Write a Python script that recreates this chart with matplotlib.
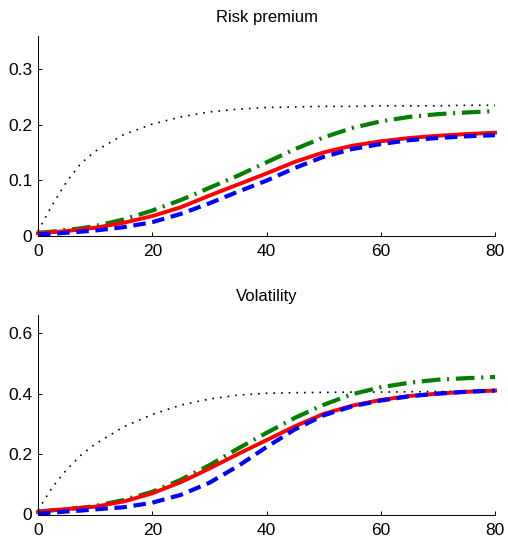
import matplotlib
matplotlib.use("Agg")
import matplotlib.pyplot as plt

plt.rcParams['font.family'] = ['Liberation Sans', 'DejaVu Sans']

x = [0, 2.5, 5, 7.5, 10, 15, 20, 25, 30, 35, 40, 45, 50, 55, 60, 65, 70, 75, 80]

# Risk premium panel
rp_dotted = [0.008, 0.055, 0.097, 0.130, 0.152, 0.182, 0.201, 0.214, 0.223, 0.228,
             0.231, 0.232, 0.233, 0.233, 0.234, 0.234, 0.234, 0.235, 0.235]
rp_red = [0.004, 0.006, 0.008, 0.011, 0.014, 0.023, 0.035, 0.051, 0.072, 0.092,
          0.112, 0.133, 0.150, 0.162, 0.170, 0.176, 0.180, 0.183, 0.1855]
rp_blue = [0.002, 0.003, 0.005, 0.007, 0.009, 0.015, 0.024, 0.039, 0.058, 0.079,
           0.099, 0.122, 0.142, 0.156, 0.165, 0.172, 0.176, 0.179, 0.181]
rp_green = [0.005, 0.007, 0.010, 0.013, 0.017, 0.029, 0.045, 0.064, 0.086, 0.108,
            0.132, 0.156, 0.177, 0.194, 0.206, 0.214, 0.219, 0.222, 0.2245]

# Volatility panel
vol_dotted = [0.015, 0.090, 0.148, 0.196, 0.233, 0.290, 0.331, 0.362, 0.382, 0.395,
              0.401, 0.403, 0.404, 0.405, 0.405, 0.406, 0.407, 0.408, 0.409]
vol_red = [0.008, 0.014, 0.018, 0.022, 0.026, 0.043, 0.070, 0.107, 0.152, 0.200,
           0.246, 0.292, 0.333, 0.360, 0.379, 0.392, 0.400, 0.406, 0.410]
vol_blue = [0.003, 0.006, 0.010, 0.013, 0.017, 0.024, 0.039, 0.065, 0.105, 0.160,
            0.223, 0.282, 0.328, 0.358, 0.377, 0.391, 0.400, 0.406, 0.410]
vol_green = [0.010, 0.014, 0.018, 0.022, 0.028, 0.048, 0.075, 0.115, 0.163, 0.218,
             0.270, 0.320, 0.363, 0.398, 0.421, 0.436, 0.446, 0.451, 0.455]

titles = ["Risk premium", "Volatility"]
xticks = [0, 20, 40, 60, 80]
yticks_top = [0, 0.1, 0.2, 0.3]
yticks_bot = [0, 0.2, 0.4, 0.6]
ylabels_top = ["0", "0.1", "0.2", "0.3"]
ylabels_bot = ["0", "0.2", "0.4", "0.6"]

fig = plt.figure(figsize=(5.08, 5.37), dpi=100)
ax1 = fig.add_axes([38/508, 1-235.5/537, 457/508, (235.5-36)/537])
ax2 = fig.add_axes([38/508, 1-514.5/537, 457/508, (514.5-315)/537])

panels = [
    (ax1, rp_dotted, rp_red, rp_blue, rp_green, 0.36, yticks_top, ylabels_top, titles[0]),
    (ax2, vol_dotted, vol_red, vol_blue, vol_green, 0.66, yticks_bot, ylabels_bot, titles[1]),
]

for ax, dot, red, blue, green, ytop, yt, yl, title in panels:
    ax.plot(x, dot, color='black', lw=1.2, ls=(0, (1.0, 3.6)))
    ax.plot(x, green, color='#007f00', lw=3, ls=(0, (4.5, 1.6, 0.5, 1.6)))
    ax.plot(x, red, color='#ff0000', lw=2.8, ls='-')
    ax.plot(x, blue, color='#0000ff', lw=3, ls=(0, (3, 1.6)))
    ax.set_xlim(0, 80)
    ax.set_ylim(0, ytop)
    ax.set_xticks(xticks)
    ax.set_xticklabels([str(v) for v in xticks])
    ax.set_yticks(yt)
    ax.set_yticklabels(yl)
    ax.spines['top'].set_visible(False)
    ax.spines['right'].set_visible(False)
    for s in ['left', 'bottom']:
        ax.spines[s].set_linewidth(0.7)
    ax.tick_params(direction='in', length=3, width=0.7, labelsize=12.5)
    ax.tick_params(axis='x', pad=6)
    ax.tick_params(axis='y', pad=4)
    ax.set_title(title, fontsize=12, pad=10)
    for line in ax.lines:
        line.set_clip_on(False)

fig.savefig("out.png", dpi=100)
